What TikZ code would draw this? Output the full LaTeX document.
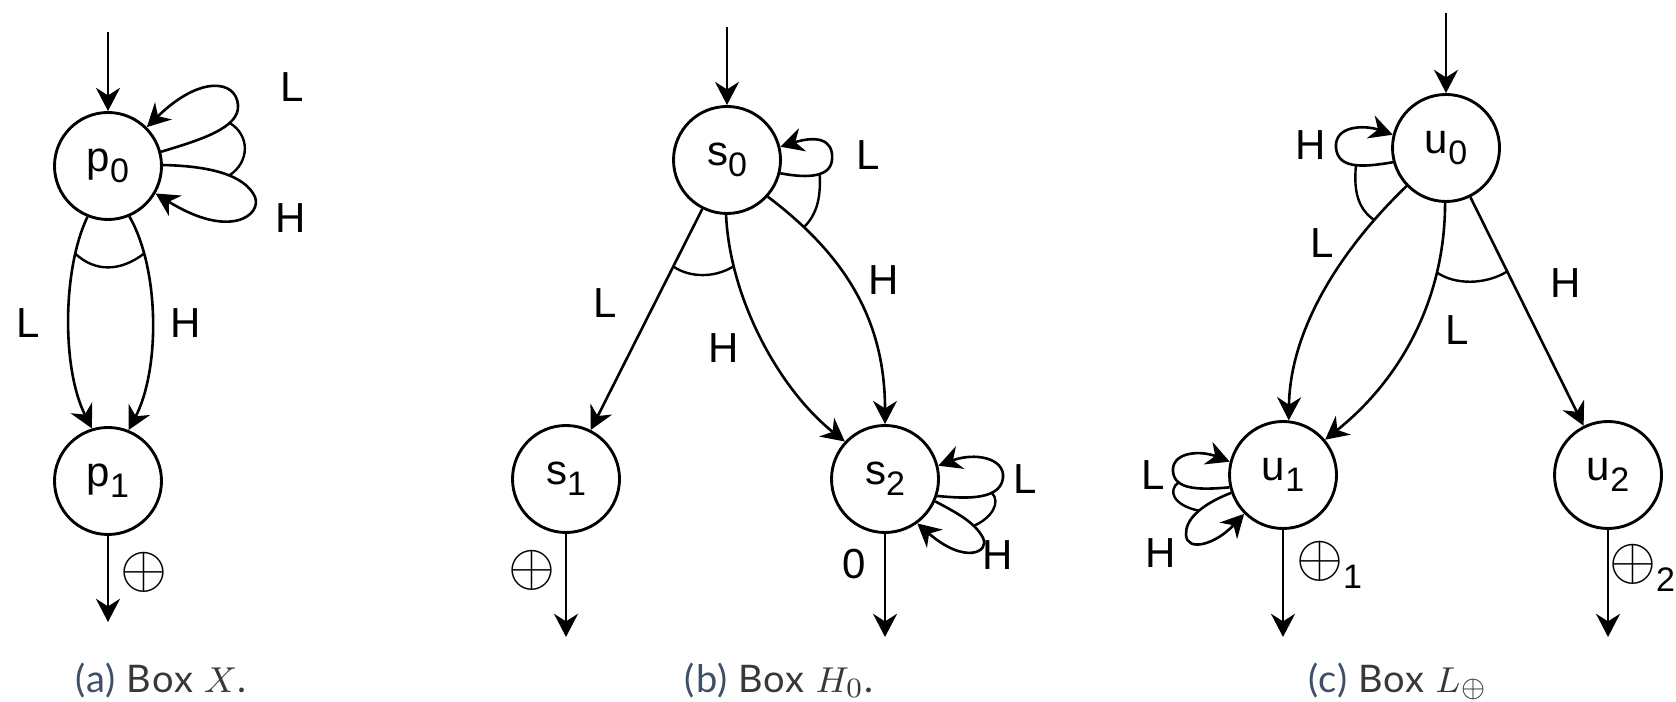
\documentclass[tikz,border=0pt]{standalone}
\usepackage{graphicx}
\usepackage{fontspec}
\setmainfont{Liberation Sans}
\newfontfamily\capfont[LetterSpace=3]{Lato}
\usetikzlibrary{arrows.meta}

\definecolor{capblue}{HTML}{3D5068}
\definecolor{capgray}{HTML}{383838}

% state name with a lowered index
\newcommand\stl[2]{#1\raisebox{-0.27em}{\fontsize{8.5}{9}\selectfont #2}}
% circled-plus output label
\newcommand\opl{\scalebox{1.38}{$\oplus$}}

\tikzset{
  state/.style={circle, draw, line width=0.72pt, minimum size=26.75pt,
    inner sep=0pt, font=\fontsize{10.5}{12}\selectfont},
  lbl/.style={inner sep=0pt, font=\fontsize{10.5}{12}\selectfont},
  edge/.style={line width=0.65pt, -{Stealth[length=5.8pt, width=6pt, inset=1.9pt]}},
  andarc/.style={line width=0.6pt},
  captext/.style={inner sep=0pt, anchor=base, text=capgray,
    font=\capfont\fontsize{9.5}{11}\selectfont},
}

\begin{document}
\begin{tikzpicture}[x=0.25pt, y=-0.25pt]
\useasboundingbox (0,0) rectangle (1676,702);

% ---------------- (a) Box X ----------------
\node[state] (p0) at (108,166) {\stl{p}{0}};
\node[state] (p1) at (108,481) {\stl{p}{1}};
\coordinate (ina) at (108,32);
\coordinate (outa) at (108,622);
\draw[edge] (ina) -- (p0);
\draw[edge] (p1) -- (outa);

% self loops L and H on p0, tied by an arc
\draw[edge] (p0.15) .. controls (200,140) and (240,128) .. (238,105)
  coordinate[pos=0.7] (pa1)
  .. controls (236,80) and (200,75) .. (p0.45);
\draw[edge] (p0.1) .. controls (210,166) and (245,175) .. (255,197)
  coordinate[pos=0.57] (pa2)
  .. controls (262,215) and (230,240) .. (p0.330);
\draw[andarc] (pa1) .. controls (250,135) and (250,162) .. (pa2);

\draw[edge] (p0.248.6) .. controls (62,270) and (62,370) .. (p1.107.4)
  coordinate[pos=0.2] (pa3);
\draw[edge] (p0.293.3) .. controls (160,270) and (160,370) .. (p1.68.6)
  coordinate[pos=0.2] (pa4);
\draw[andarc] (pa3) .. controls (95,272) and (120,272) .. (pa4);

\node[lbl] (la1) at (292,87) {L};
\node[lbl] (la2) at (291,218) {H};
\node[lbl] (la3) at (28,323) {L};
\node[lbl] (la4) at (186,323) {H};
\node[lbl] (la5) at (144,572) {\opl};
\node[captext] (capa) at (161,692) {{\color{capblue}(a)} Box $X$.};

% ---------------- (b) Box H0 ----------------
\node[state] (s0) at (727,160) {\stl{s}{0}};
\node[state] (s1) at (566,479) {\stl{s}{1}};
\node[state] (s2) at (885,479) {\stl{s}{2}};
\coordinate (inb) at (727,27);
\coordinate (outb1) at (566,637);
\coordinate (outb2) at (885,637);
\draw[edge] (inb) -- (s0);
\draw[edge] (s1) -- (outb1);
\draw[edge] (s2) -- (outb2);

\draw[edge] (s0) -- (s1) coordinate[pos=0.26] (pb1);
\draw[edge] (s0.269) .. controls (730,300) and (780,390) .. (s2.137)
  coordinate[pos=0.2] (pb2);
\draw[andarc] (pb1) .. controls (690,278) and (715,278) .. (pb2);

\draw[edge] (s0.318) .. controls (845,255) and (885,320) .. (s2.north)
  coordinate[pos=0.17] (pb3);
\draw[edge] (s0.346) .. controls (800,177) and (830,180) .. (832,160)
  coordinate[pos=0.62] (pb4)
  .. controls (834,138) and (815,136) .. (s0.14);
\draw[andarc] (pb4) .. controls (821,200) and (816,215) .. (pb3);

\draw[edge] (s2.342.6) .. controls (960,498) and (1000,502) .. (1003,478)
  coordinate[pos=0.7] (pb5)
  .. controls (1005,458) and (975,452) .. (s2.14);
\draw[edge] (s2.336) .. controls (955,512) and (975,522) .. (983,538)
  coordinate[pos=0.72] (pb6)
  .. controls (990,552) and (965,565) .. (s2.306);
\draw[andarc] (pb5) .. controls (1001,502) and (992,518) .. (pb6);

\node[lbl] (lb1) at (868,155) {L};
\node[lbl] (lb2) at (605,303) {L};
\node[lbl] (lb3) at (724,348) {H};
\node[lbl] (lb4) at (884,280) {H};
\node[lbl] (lb5) at (1025,479) {L};
\node[lbl] (lb6) at (998,555) {H};
\node[lbl] (lb7) at (532,570) {\opl};
\node[lbl] (lb8) at (854,564) {0};
\node[captext] (capb) at (779,692) {{\color{capblue}(b)} Box $H_0$.};

% ---------------- (c) Box L_oplus ----------------
\node[state] (u0) at (1446,148) {\stl{u}{0}};
\node[state] (u1) at (1283,475) {\stl{u}{1}};
\node[state] (u2) at (1608,475) {\stl{u}{2}};
\coordinate (inc) at (1446,13);
\coordinate (outc1) at (1283,637);
\coordinate (outc2) at (1608,637);
\draw[edge] (inc) -- (u0);
\draw[edge] (u1) -- (outc1);
\draw[edge] (u2) -- (outc2);

\draw[edge] (u0.195.5) .. controls (1360,168) and (1338,168) .. (1336,148)
  coordinate[pos=0.45] (pc1)
  .. controls (1334,125) and (1365,125) .. (u0.166.5);
\draw[edge] (u0.224) .. controls (1340,250) and (1290,330) .. (u1.84)
  coordinate[pos=0.17] (pc2);
\draw[andarc] (pc1) .. controls (1353,195) and (1360,210) .. (pc2);

\draw[edge] (u0.269) .. controls (1445,300) and (1400,380) .. (u1.40)
  coordinate[pos=0.25] (pc3);
\draw[edge] (u0) -- (u2) coordinate[pos=0.325] (pc4);
\draw[andarc] (pc3) .. controls (1455,285) and (1485,285) .. (pc4);

\draw[edge] (u1.193.5) .. controls (1200,490) and (1175,490) .. (1173,472)
  coordinate[pos=0.75] (pc5)
  .. controls (1171,452) and (1200,450) .. (u1.166.5);
\draw[edge] (u1.199.7) .. controls (1200,505) and (1185,520) .. (1186,535)
  coordinate[pos=0.45] (pc6)
  .. controls (1187,552) and (1215,545) .. (u1.225);
\draw[andarc] (pc5) .. controls (1168,490) and (1172,505) .. (pc6);

\node[lbl] (lc1) at (1311,145) {H};
\node[lbl] (lc2) at (1322,243) {L};
\node[lbl] (lc3) at (1457,330) {L};
\node[lbl] (lc4) at (1566,283) {H};
\node[lbl] (lc5) at (1153,475) {L};
\node[lbl] (lc6) at (1161,553) {H};
\node[lbl] (lc7) at (1329,565) {\opl\raisebox{-0.3em}{\fontsize{8.5}{9}\selectfont 1}};
\node[lbl] (lc8) at (1642,568) {\opl\raisebox{-0.3em}{\fontsize{8.5}{9}\selectfont 2}};
\node[captext] (capc) at (1398,692) {{\color{capblue}(c)} Box $L_\oplus$};
\end{tikzpicture}
\end{document}
